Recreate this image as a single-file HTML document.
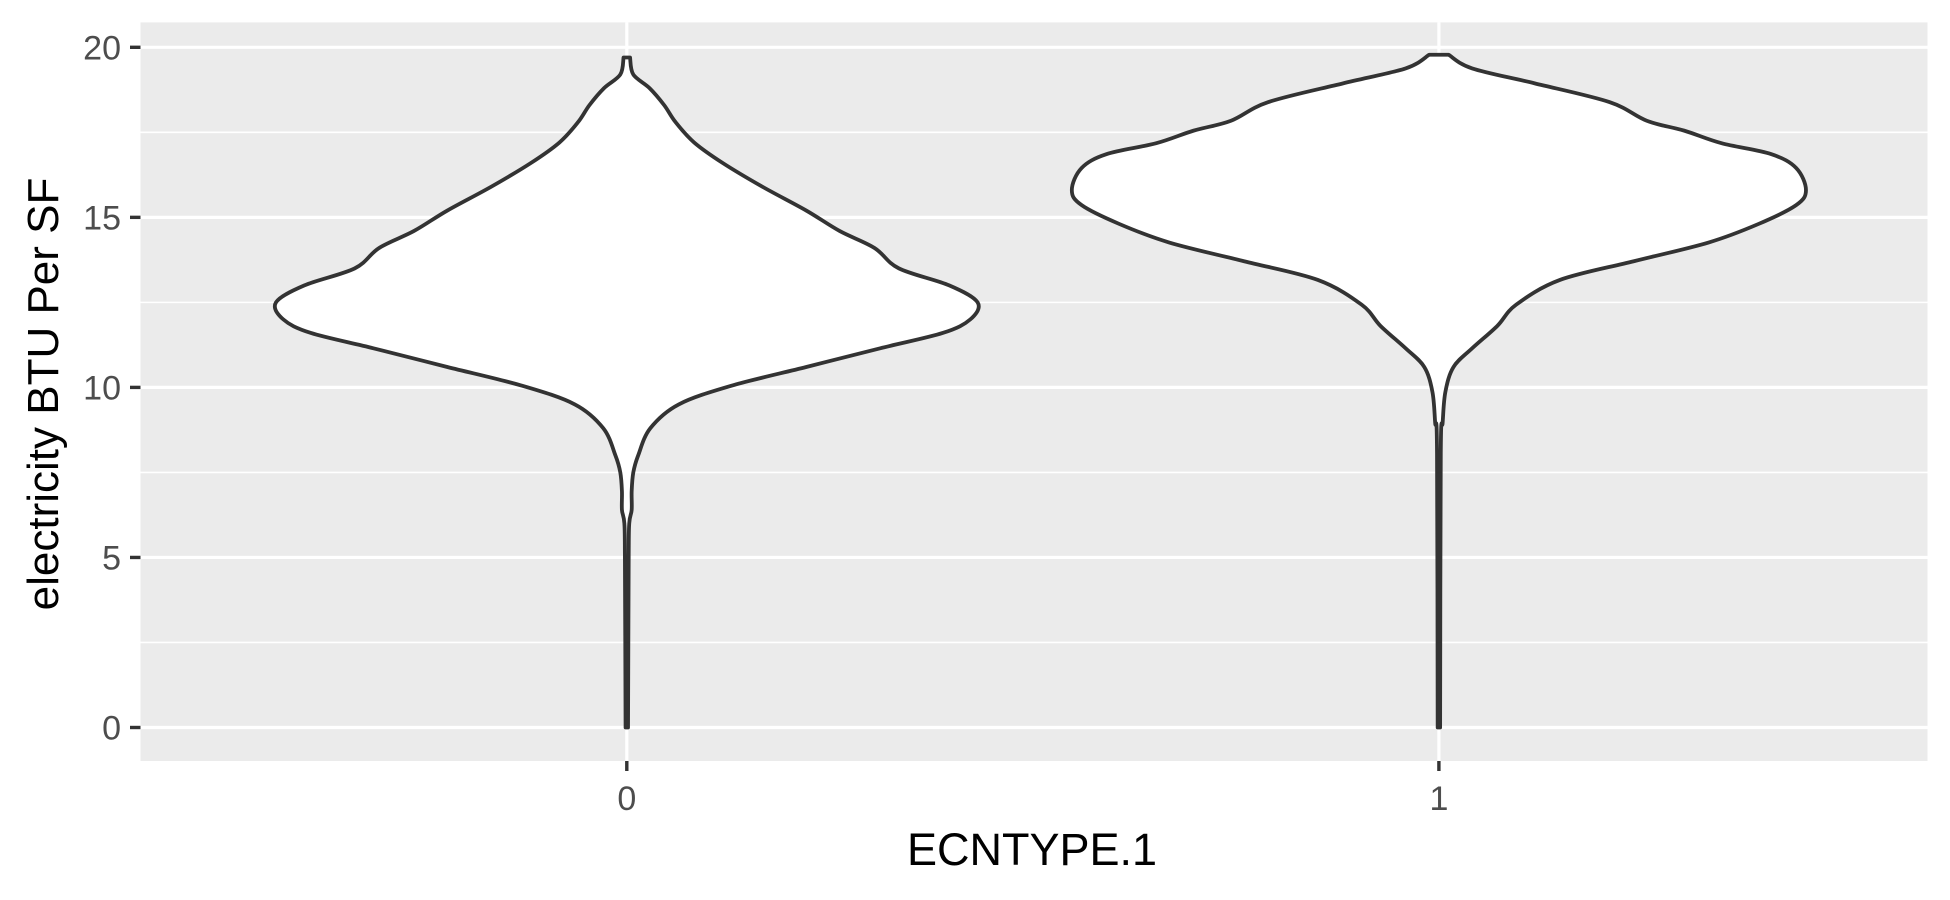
<!DOCTYPE html>
<html><head><meta charset="utf-8"><style>
html,body{margin:0;padding:0;background:#fff;}
svg{display:block;font-family:"Liberation Sans",Arial,sans-serif;}
</style></head><body>
<svg id="chart" width="1950" height="900" viewBox="0 0 1950 900">
<rect x="140.5" y="22.4" width="1787" height="738.6" fill="#EBEBEB"/>
<g id="grid"></g><g id="violins"></g><g id="axes"></g>
<text x="1032" y="865" text-anchor="middle" font-size="45" fill="#000">ECNTYPE.1</text>
<text transform="translate(58,394) rotate(-90)" text-anchor="middle" font-size="44" fill="#000">electricity BTU Per SF</text>
</svg>
<script>
const categories = ["0","1"];
const yTicks = [0,5,10,15,20];
const yMinor = [2.5,7.5,12.5,17.5];
// violin profiles: y values and half-widths (category units)
const v0y = [0,4.9,6.0,6.4,6.95,7.5,8.0,8.8,9.5,10.05,10.6,11.15,11.6,12.0,12.5,13.0,13.5,14.1,14.6,15.2,15.9,16.6,17.2,17.8,18.3,18.8,19.2,19.7];
const v0w = [0.0015,0.0023,0.003,0.006,0.006,0.008,0.014,0.029,0.064,0.129,0.221,0.312,0.389,0.423,0.432,0.397,0.335,0.305,0.262,0.221,0.167,0.118,0.083,0.060,0.046,0.028,0.008,0.004];
const v1y = [0,8.04,8.96,9.87,10.6,11.15,11.81,12.43,13.16,13.71,14.26,14.81,15.36,15.8,16.45,16.86,17.18,17.55,17.84,18.39,18.94,19.38,19.78];
const v1w = [0.0015,0.0023,0.0046,0.008,0.018,0.041,0.072,0.095,0.149,0.240,0.332,0.394,0.440,0.452,0.440,0.409,0.348,0.302,0.256,0.210,0.118,0.041,0.012];
const NS="http://www.w3.org/2000/svg";
const X0=140.5,X1=1927.5,Y0=22.4,Y1=761;
const xs = i => 626.8 + i*812.1;
const ys = v => 727.5 - v*34.01;
const wu = 812.1;
const grid=document.getElementById('grid'),vg=document.getElementById('violins'),ax=document.getElementById('axes');
function line(p,x1,y1,x2,y2,c,w){const l=document.createElementNS(NS,'line');l.setAttribute('x1',x1);l.setAttribute('y1',y1);l.setAttribute('x2',x2);l.setAttribute('y2',y2);l.setAttribute('stroke',c);l.setAttribute('stroke-width',w);p.appendChild(l);return l;}
yMinor.forEach(v=>{const l=line(grid,X0,ys(v),X1,ys(v),'#fff',1.6);

});
yTicks.forEach(v=>{const l=line(grid,X0,ys(v),X1,ys(v),'#fff',3.2);


const t=line(ax,130,ys(v),140.5,ys(v),'#333',3.4);


const tx=document.createElementNS(NS,'text');tx.setAttribute('x',121);tx.setAttribute('y',ys(v)+12);tx.setAttribute('text-anchor','end');tx.setAttribute('font-size','34');tx.setAttribute('fill','#4D4D4D');tx.textContent=v;


ax.appendChild(tx);});
categories.forEach((c,i)=>{const l=line(grid,xs(i),Y0,xs(i),Y1,'#fff',3.2);


const t=line(ax,xs(i),Y1,xs(i),Y1+10,'#333',3.4);


const tx=document.createElementNS(NS,'text');tx.setAttribute('x',xs(i));tx.setAttribute('y',810);tx.setAttribute('text-anchor','middle');tx.setAttribute('font-size','34');tx.setAttribute('fill','#4D4D4D');tx.textContent=c;


ax.appendChild(tx);});
function curve(pts){let d='';const n=pts.length;
for(let k=0;k<n-1;k++){const p0=pts[Math.max(k-1,0)],p1=pts[k],p2=pts[k+1],p3=pts[Math.min(k+2,n-1)];
const c1=[p1[0]+(p2[0]-p0[0])/6,p1[1]+(p2[1]-p0[1])/6],c2=[p2[0]-(p3[0]-p1[0])/6,p2[1]-(p3[1]-p1[1])/6];
d+=` C${c1[0]},${c1[1]} ${c2[0]},${c2[1]} ${p2[0]},${p2[1]}`;}return d;}
function violin(i,yv,wv,name){const cx=xs(i);const L=[],R=[];
for(let k=0;k<yv.length;k++)L.push([cx-wv[k]*wu,ys(yv[k])]);
for(let k=yv.length-1;k>=0;k--)R.push([cx+wv[k]*wu,ys(yv[k])]);
let d='M'+L[0][0]+','+L[0][1]+curve(L)+' L'+R[0][0]+','+R[0][1]+curve(R)+'Z';
const p=document.createElementNS(NS,'path');p.setAttribute('d',d);p.setAttribute('fill','#fff');p.setAttribute('stroke','#333');p.setAttribute('stroke-width','3.8');p.setAttribute('stroke-linejoin','round');


vg.appendChild(p);}
violin(0,v0y,v0w,'violin-0');
violin(1,v1y,v1w,'violin-1');
</script>
</body></html>
